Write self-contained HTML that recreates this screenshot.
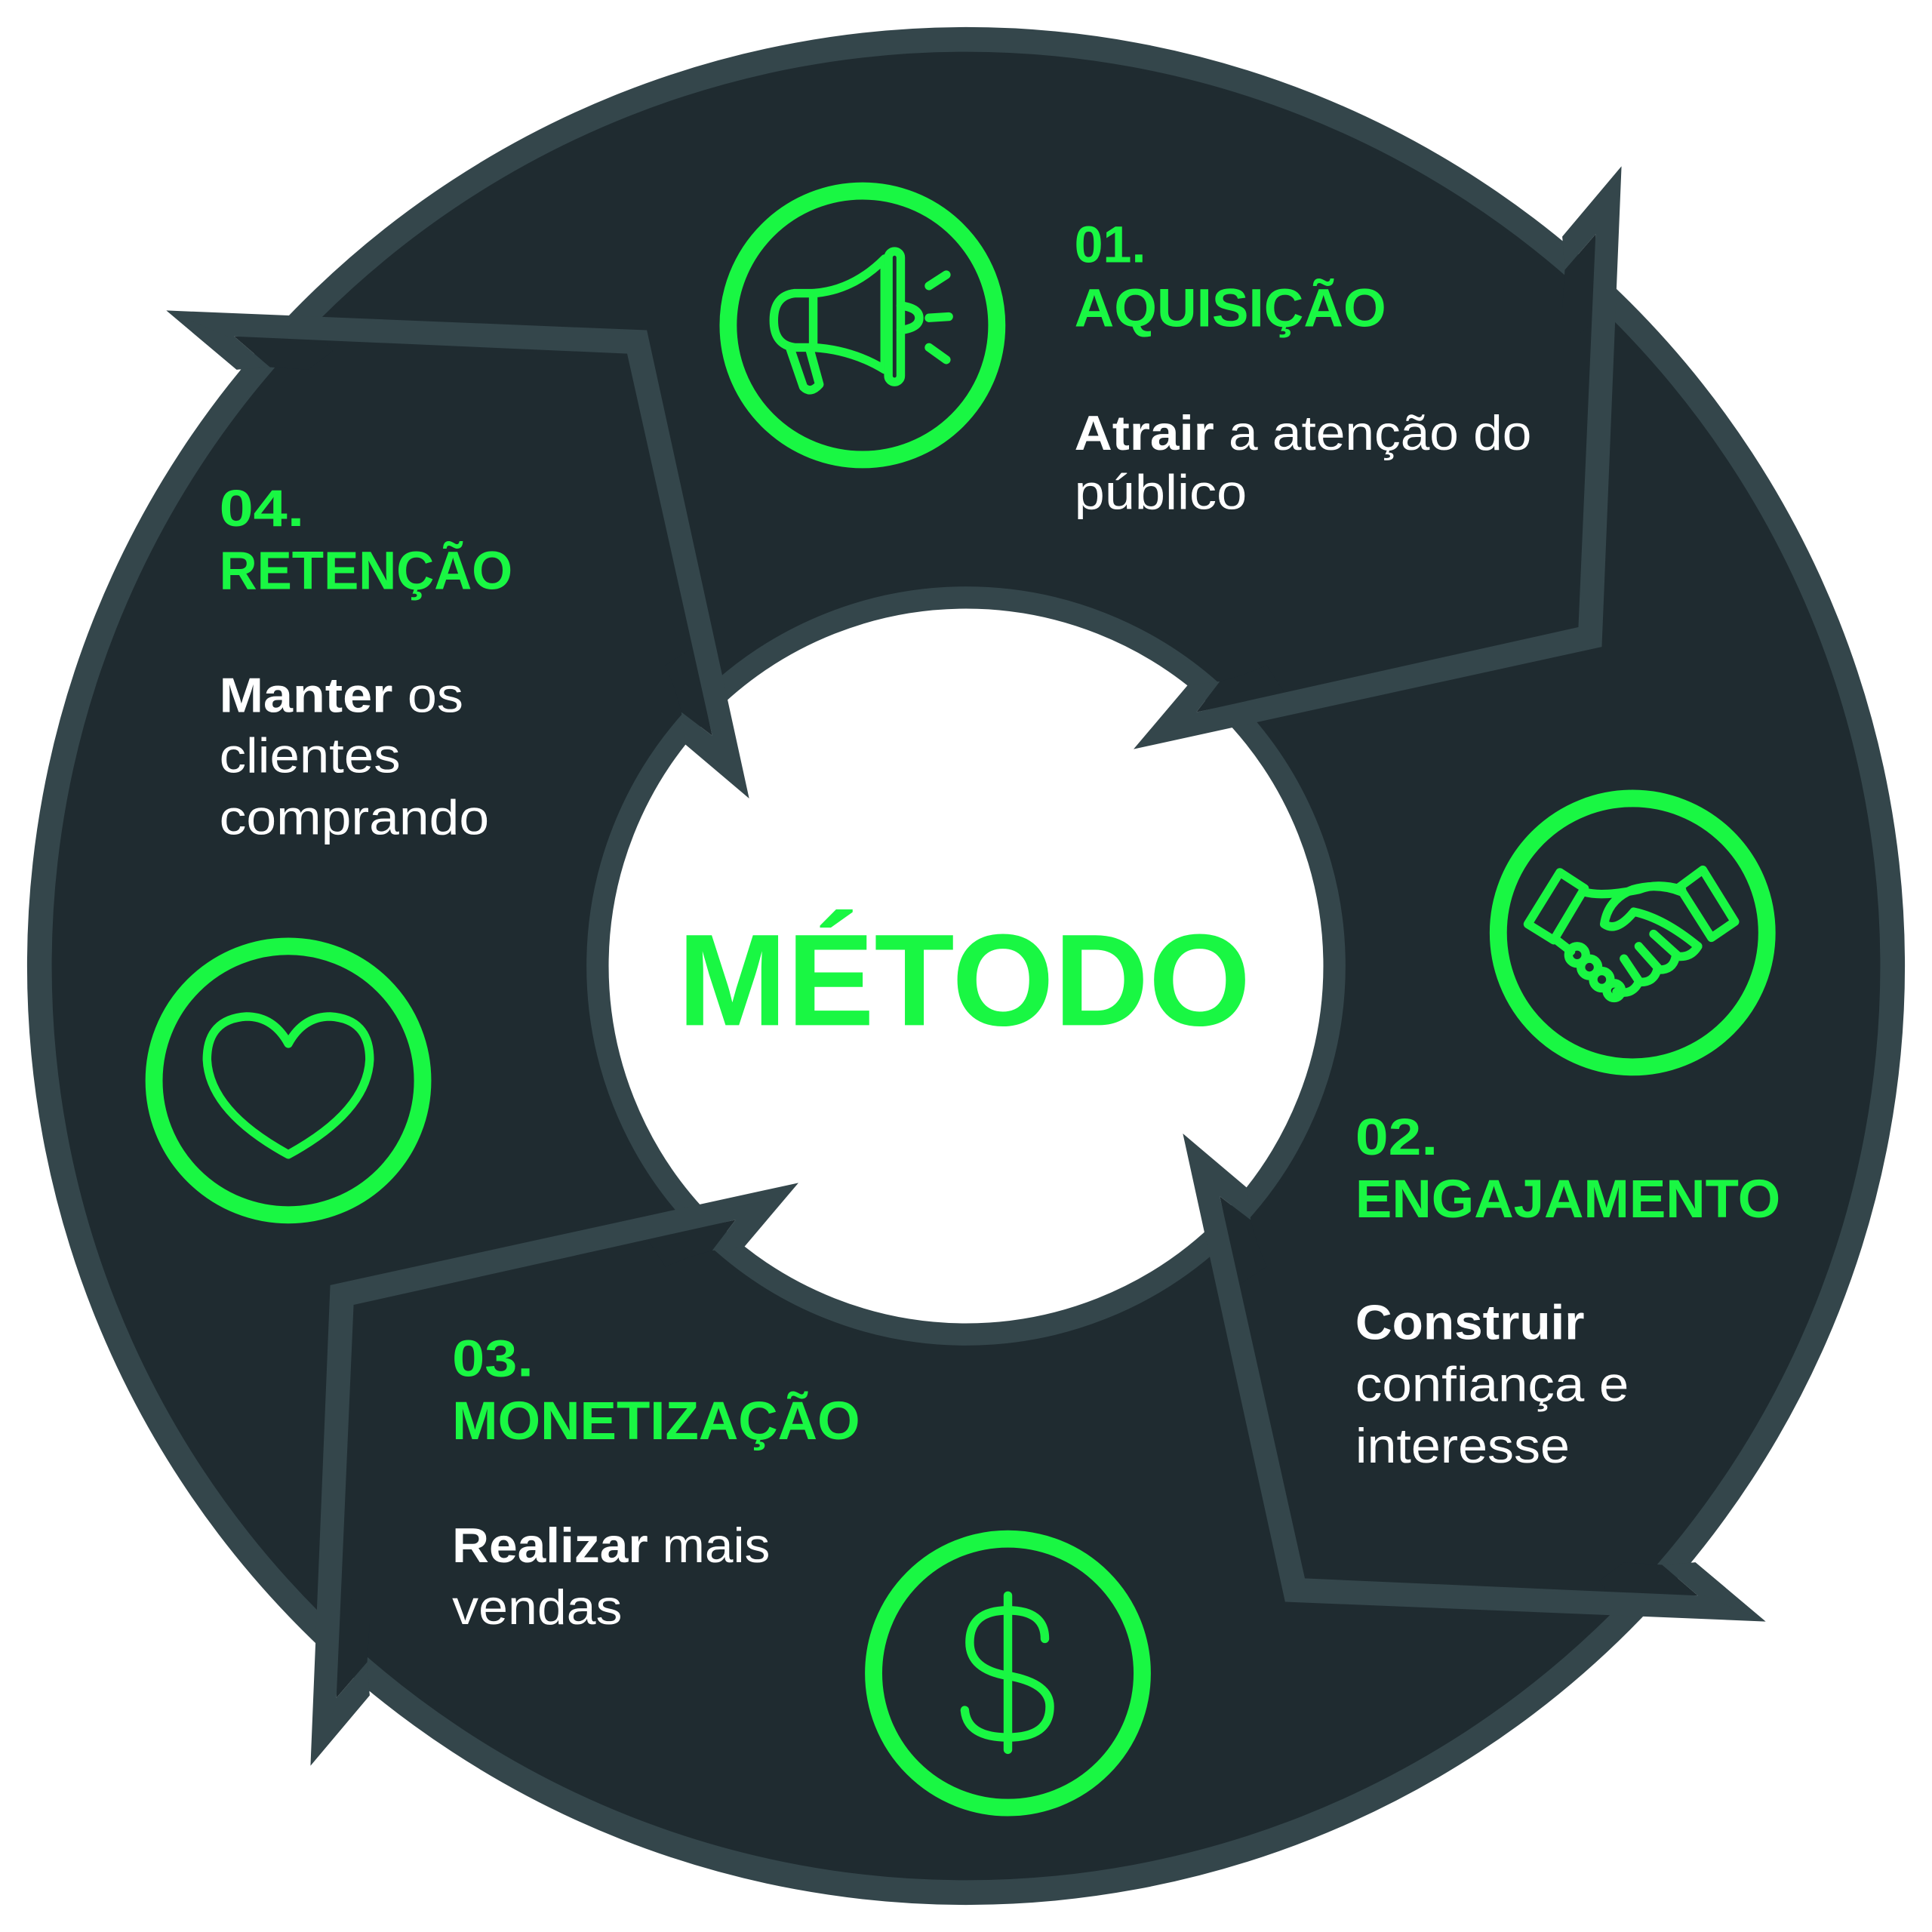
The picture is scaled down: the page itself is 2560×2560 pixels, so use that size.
<!DOCTYPE html>
<html><head><meta charset="utf-8"><style>html,body{margin:0;padding:0;background:#fff}svg{display:block}</style></head>
<body>
<svg width="2560" height="2560" viewBox="0 0 1568 1568" xmlns="http://www.w3.org/2000/svg">
<defs>
<g id="arr">
<polygon points="548,560 553,578 578,597 563,525 540,540" fill="#1f2b30"/>
<polygon points="190,273 219,298 250,300 270,285 260,272" fill="#1f2b30"/>
<polygon points="135,252 525,268 608,648 556,604 553,578 578,597 509,287 190,273 219,298 192,300" fill="#34464b"/>
<polygon points="135,252 192,276 219,298 192,300" fill="#34464b"/>
</g>
</defs>
<circle cx="784" cy="784" r="752" fill="#1f2b30" stroke="#34464b" stroke-width="20"/>
<circle cx="784" cy="784" r="299" fill="#ffffff" stroke="#34464b" stroke-width="18"/>
<use href="#arr"/>
<use href="#arr" transform="rotate(90 784 784)"/>
<use href="#arr" transform="rotate(180 784 784)"/>
<use href="#arr" transform="rotate(270 784 784)"/>

<g font-family="Liberation Sans, sans-serif" font-weight="bold" fill="#19f743">
<text x="550" y="832" font-size="106" textLength="465" lengthAdjust="spacingAndGlyphs">MÉTODO</text>
<text x="872" y="213" font-size="42" textLength="58" lengthAdjust="spacingAndGlyphs">01.</text>
<text x="872" y="265" font-size="44" textLength="253" lengthAdjust="spacingAndGlyphs">AQUISIÇÃO</text>
<text x="178" y="427" font-size="42" textLength="69" lengthAdjust="spacingAndGlyphs">04.</text>
<text x="178" y="478" font-size="44" textLength="238" lengthAdjust="spacingAndGlyphs">RETENÇÃO</text>
<text x="1100" y="937" font-size="42" textLength="67" lengthAdjust="spacingAndGlyphs">02.</text>
<text x="1100" y="988" font-size="44" textLength="345" lengthAdjust="spacingAndGlyphs">ENGAJAMENTO</text>
<text x="367" y="1117" font-size="42" textLength="66" lengthAdjust="spacingAndGlyphs">03.</text>
<text x="367" y="1168" font-size="44" textLength="331" lengthAdjust="spacingAndGlyphs">MONETIZAÇÃO</text>
</g>
<g font-family="Liberation Sans, sans-serif" font-size="40" fill="#ffffff">
<text x="872" y="365" textLength="371" lengthAdjust="spacingAndGlyphs"><tspan font-weight="bold">Atrair</tspan> a atenção do</text>
<text x="872" y="413" textLength="140" lengthAdjust="spacingAndGlyphs">público</text>
<text x="178" y="578" textLength="198" lengthAdjust="spacingAndGlyphs"><tspan font-weight="bold">Manter</tspan> os</text>
<text x="178" y="627" textLength="147" lengthAdjust="spacingAndGlyphs">clientes</text>
<text x="178" y="677" textLength="219" lengthAdjust="spacingAndGlyphs">comprando</text>
<text x="1100" y="1087" font-weight="bold" textLength="186" lengthAdjust="spacingAndGlyphs">Construir</text>
<text x="1100" y="1137" textLength="222" lengthAdjust="spacingAndGlyphs">confiança e</text>
<text x="1100" y="1187" textLength="174" lengthAdjust="spacingAndGlyphs">interesse</text>
<text x="367" y="1268" textLength="258" lengthAdjust="spacingAndGlyphs"><tspan font-weight="bold">Realizar</tspan> mais</text>
<text x="367" y="1318" textLength="138" lengthAdjust="spacingAndGlyphs">vendas</text>
</g>

<g fill="none" stroke="#19f743" stroke-width="14">
<circle cx="700" cy="264" r="109"/>
<circle cx="1325" cy="757" r="109"/>
<circle cx="234" cy="877" r="109"/>
<circle cx="818" cy="1358" r="109"/>
</g>
<g fill="none" stroke="#19f743" stroke-width="7" stroke-linecap="round" stroke-linejoin="round">
<path d="M660,238 L645,238 Q628,240 628,260 Q628,280 645,282 L660,282 Z"/>
<path d="M660,238 Q692,236 718,210 L718,300 Q692,284 660,282"/>
<rect x="721" y="204" width="10" height="106" rx="5"/>
<path d="M641,282 L652,314 Q658,320 665,312 L657,283"/>
<path d="M731,248 Q746,250 746,258 Q746,266 731,268"/>
<path d="M754,232 L768,223 M754,258 L770,257 M754,282 L768,292"/>
<path d="M234,847 Q222,825 200,825 Q168,827 168,860 Q170,902 234,937 Q298,902 300,860 Q300,827 268,825 Q246,825 234,847 Z"/>
<path d="M818,1295 L818,1420"/>
<path d="M848,1330 Q848,1307 818,1307 Q787,1307 787,1333 Q787,1355 818,1360 Q852,1366 852,1385 Q852,1410 818,1410 Q785,1410 783,1388"/>
<path d="M1240,750 L1266,708 L1286,721 L1261,763 Z"/>
<path d="M1363,720 L1382,706 L1408,748 L1389,761 Z"/>
<path d="M1286,724 Q1300,728 1330,722 Q1345,716 1365,722"/>
<path d="M1365,724 Q1345,716 1325,722 Q1305,730 1302,750 Q1312,757 1326,740 Q1350,745 1378,768"/>
<path d="M1262,762 L1275,772 M1378,768 Q1372,778 1360,776 Q1358,788 1345,787 Q1342,798 1330,797 Q1325,808 1312,805"/>
<path d="M1342,758 L1362,776 M1330,768 L1346,786 M1318,778 L1330,796"/>
<circle cx="1280" cy="775" r="7"/><circle cx="1290" cy="785" r="7"/><circle cx="1300" cy="795" r="7"/><circle cx="1310" cy="804" r="6"/>
</g>
</svg>
</body></html>
